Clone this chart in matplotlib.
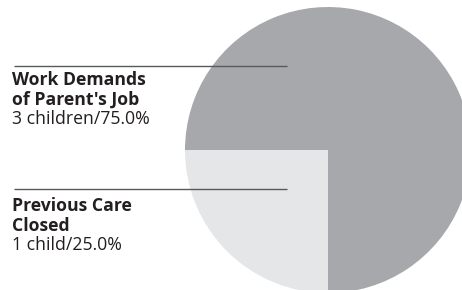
import matplotlib
matplotlib.use('Agg')
import matplotlib.pyplot as plt

# Slice data (light slice first, drawn from 9 o'clock down to 6 o'clock)
labels = ["Previous Care\nClosed", "Work Demands\nof Parent's Job"]
counts = [1, 3]
details = ["1 child/25.0%", "3 children/75.0%"]
colors = ['#e5e6e8', '#a7a8ab']

W, H = 462, 290

fig = plt.figure(figsize=(W / 100, H / 100), dpi=100)
ax = fig.add_axes([0, 0, 1, 1])

# Pie in pixel-like coordinates (y measured from bottom)
cx, cy, r = 328, H - 150, 143
ax.pie(counts, colors=colors, startangle=180, counterclock=True,
       center=(cx, cy), radius=r, wedgeprops=dict(linewidth=0))

ax.set_xlim(0, W)
ax.set_ylim(0, H)
ax.set_aspect('equal')
ax.axis('off')

# Leader lines and labels: (line y, first baseline y) in image pixels
label_pos = [(189, 211), (66, 85)]
line_gap = 19.7
font = ['Open Sans', 'DejaVu Sans']

for (ly, by), lab, det in zip(label_pos, labels, details):
    ax.plot([14, 287], [H - ly, H - ly], color='#58595b', lw=1.0,
            solid_capstyle='butt')
    lines = lab.split('\n')
    for i, t in enumerate(lines):
        ax.text(12, H - (by + i * line_gap), t, fontsize=12.7,
                fontweight='bold', family=font, color='#231f20',
                va='baseline', ha='left')
    ax.text(12, H - (by + len(lines) * line_gap), det, fontsize=12.7,
            family=font, color='#231f20', va='baseline', ha='left')

fig.savefig('out.png', dpi=100)
